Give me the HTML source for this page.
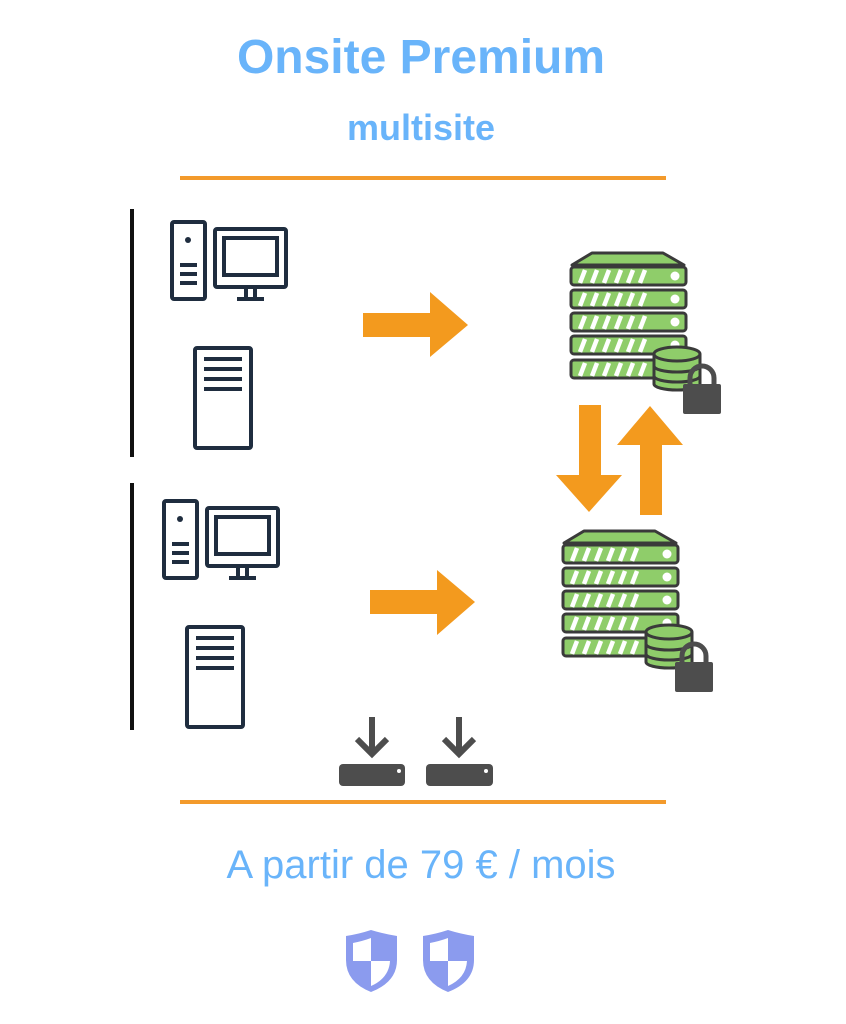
<!DOCTYPE html>
<html><head><meta charset="utf-8"><style>
html,body{margin:0;padding:0;background:#fff;}
svg{display:block}
text{font-family:"Liberation Sans",Arial,sans-serif;fill:#69b4fa}
</style></head><body>
<svg width="846" height="1024" viewBox="0 0 846 1024" xmlns="http://www.w3.org/2000/svg">
<defs>
<g id="pc" fill="none" stroke="#1f2d3f" stroke-width="4">
  <rect x="172" y="222" width="33" height="77" rx="2"/>
  <circle cx="188" cy="240" r="3" fill="#1f2d3f" stroke="none"/>
  <line x1="180" y1="265" x2="197" y2="265"/><line x1="180" y1="274" x2="197" y2="274"/><line x1="180" y1="283" x2="197" y2="283"/>
  <rect x="215" y="229" width="71" height="58" rx="2"/>
  <rect x="224" y="238" width="53" height="37"/>
  <line x1="246" y1="287" x2="246" y2="299"/><line x1="255" y1="287" x2="255" y2="299"/>
  <line x1="237" y1="299" x2="264" y2="299"/>
  <rect x="195" y="348" width="56" height="100" rx="2"/>
  <line x1="204" y1="359" x2="242" y2="359"/><line x1="204" y1="369" x2="242" y2="369"/><line x1="204" y1="379" x2="242" y2="379"/><line x1="204" y1="389" x2="242" y2="389"/>
</g>
<g id="row">
  <rect x="0" y="0" width="115" height="18" rx="3" fill="#8fcd6a" stroke="#3a3a3a" stroke-width="3"/>
  <g stroke="#fff" stroke-width="4.5">
    <line x1="9" y1="16" x2="14" y2="3"/><line x1="21" y1="16" x2="26" y2="3"/><line x1="33" y1="16" x2="38" y2="3"/><line x1="45" y1="16" x2="50" y2="3"/><line x1="57" y1="16" x2="62" y2="3"/><line x1="69" y1="16" x2="74" y2="3"/>
  </g>
  <circle cx="104" cy="9" r="4.5" fill="#fff"/>
</g>
<g id="srv">
  <polygon points="572,265 592,253 663,253 684,265" fill="#8fcd6a" stroke="#3a3a3a" stroke-width="3" stroke-linejoin="round"/>
  <use href="#row" x="571" y="267"/>
  <use href="#row" x="571" y="290"/>
  <use href="#row" x="571" y="313"/>
  <use href="#row" x="571" y="336"/>
  <use href="#row" x="571" y="360"/>
  <g stroke="#3a3a3a" stroke-width="3" fill="#8fcd6a">
    <path d="M654,354 v30 a23,6 0 0 0 46,0 v-30"/>
    <ellipse cx="677" cy="354" rx="23" ry="7"/>
    <path d="M654,366 a23,6 0 0 0 46,0 M654,376 a23,6 0 0 0 46,0" fill="none"/>
  </g>
  <path d="M690,386 v-8 a12,12 0 0 1 24,0 v8" fill="none" stroke="#4d4d4d" stroke-width="5"/>
  <rect x="683" y="384" width="38" height="30" rx="2" fill="#4d4d4d"/>
</g>
<g id="shield">
  <path d="M0,6 Q13,4 25,0 Q38,4 51,6 V30 Q51,52 25,62 Q0,52 0,30 Z" fill="#8b9bee"/>
  <path d="M7,13 Q17,11 25,8 V31 H7 Z M25,31 H44 Q43,48 25,56 Z" fill="#fff"/>
</g>
<g id="drv" stroke="#4d4d4d" fill="none">
  <line x1="0" y1="0" x2="0" y2="36" stroke-width="6"/>
  <polyline points="-15,22 0,37 15,22" stroke-width="6"/>
</g>
</defs>

<text x="421" y="73" font-size="48" font-weight="bold" text-anchor="middle">Onsite Premium</text>
<text x="421" y="140" font-size="36" font-weight="bold" text-anchor="middle">multisite</text>
<rect x="180" y="176" width="486" height="4" fill="#f39a2b"/>
<rect x="180" y="800" width="486" height="4" fill="#f39a2b"/>

<rect x="130" y="209" width="4" height="248" fill="#111"/>
<rect x="130" y="483" width="4" height="247" fill="#111"/>

<use href="#pc"/>
<use href="#pc" x="-8" y="279"/>

<polygon points="363,313 430,313 430,292 468,325 430,357 430,337 363,337" fill="#f39a1e"/>
<polygon points="370,590 437,590 437,570 475,602 437,635 437,614 370,614" fill="#f39a1e"/>
<polygon points="579,405 601,405 601,475 622,475 589,512 556,475 579,475" fill="#f39a1e"/>
<polygon points="640,515 662,515 662,445 683,445 650,406 617,445 640,445" fill="#f39a1e"/>

<use href="#srv"/>
<use href="#srv" x="-8" y="278"/>

<use href="#drv" x="372" y="717"/>
<use href="#drv" x="459" y="717"/>
<rect x="339" y="764" width="66" height="22" rx="4" fill="#4d4d4d"/>
<rect x="426" y="764" width="67" height="22" rx="4" fill="#4d4d4d"/>
<circle cx="399" cy="771" r="2" fill="#fff"/>
<circle cx="486" cy="771" r="2" fill="#fff"/>

<text x="421" y="878" font-size="40" text-anchor="middle">A partir de 79 € / mois</text>

<use href="#shield" x="346" y="930"/>
<use href="#shield" x="423" y="930"/>
</svg>
</body></html>
